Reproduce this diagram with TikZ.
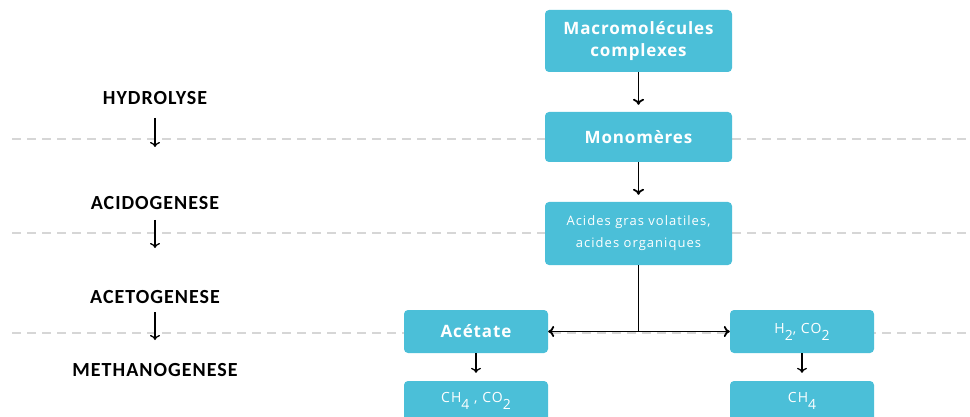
\documentclass[tikz,border=0pt]{standalone}
\usepackage{fontspec}
\setmainfont{Open Sans}
\newfontfamily\boxfont[LetterSpace=5]{Open Sans}
\newfontfamily\smallfont[LetterSpace=8]{Open Sans}
\newfontfamily\labfont[LetterSpace=5]{Carlito}
\usetikzlibrary{arrows.meta}
\definecolor{boxblue}{HTML}{4BBFD8}
\definecolor{dashgrey}{HTML}{D6D6D6}
\newcommand\subs[1]{\raisebox{-7pt}{#1}}
\tikzset{
  box/.style={fill=boxblue, rounded corners=4pt, text=white, align=center, inner sep=0pt},
  bigbox/.style={box, minimum width=187pt, font=\boxfont\fontsize{17}{22}\selectfont\bfseries},
  smallbox/.style={box, minimum width=144pt, minimum height=43pt},
  chem/.style={font=\smallfont\fontsize{14}{14}\selectfont},
  stage/.style={font=\labfont\fontsize{20}{20}\selectfont\bfseries, text=black, inner sep=0pt},
  dashline/.style={draw=dashgrey, line width=2pt, dash pattern=on 9pt off 6pt},
  flow/.style={-{To[length=6pt,width=11pt]}, line width=1.8pt, black},
  sflow/.style={-{To[length=5pt,width=10pt]}, line width=1.3pt, black},
}
\begin{document}
\begin{tikzpicture}[x=1pt,y=-1pt]
\useasboundingbox (0,0) rectangle (970,417);
% dashed separators
\draw[dashline] (12,139) -- (970,139);
\draw[dashline] (12,233) -- (970,233);
\draw[dashline] (12,333) -- (970,333);
% stage labels
\node[stage] (hyd) at (155,98) {HYDROLYSE};
\node[stage] (acid) at (155,203) {ACIDOGENESE};
\node[stage] (acet) at (155,297) {ACETOGENESE};
\node[stage] (meth) at (155,370) {METHANOGENESE};
\coordinate (h1) at (155,118); \coordinate (h2) at (155,147);
\coordinate (a1) at (155,220); \coordinate (a2) at (155,248);
\coordinate (c1) at (155,312); \coordinate (c2) at (155,340);
\draw[sflow] (h1) -- (h2);
\draw[sflow] (a1) -- (a2);
\draw[sflow] (c1) -- (c2);
% main boxes
\node[bigbox, minimum height=62pt] (macro) at (638.5,41) {Macromolécules\\complexes};
\node[bigbox, minimum height=50pt] (mono) at (638.5,137) {Monomères};
\node[bigbox, minimum height=63pt, font=\smallfont\fontsize{13}{22}\selectfont] (agv) at (638.5,233.5) {Acides gras volatiles,\\acides organiques};
\node[smallbox, font=\boxfont\fontsize{17}{17}\selectfont\bfseries] (acetate) at (476,331.5) {Acétate};
\node[smallbox, chem] (hco) at (802,331.5) {H\subs{2}, CO\subs{2}};
\node[smallbox, chem, minimum height=40pt] (cc) at (476,401) {CH\subs{4} , CO\subs{2}};
\node[smallbox, chem, minimum height=40pt] (ch) at (802,401) {CH\subs{4}};
% connectors
\draw[flow, shorten >=7pt] (macro) -- (mono);
\draw[flow, shorten >=7pt] (mono) -- (agv);
\coordinate (split) at (638.5,331.5);
\draw[line width=1.8pt] (agv.south) -- (split);
\draw[{To[length=6pt,width=11pt]}-{To[length=6pt,width=11pt]}, line width=1.8pt] (acetate.east) -- (hco.west);
\draw[sflow, shorten >=8pt] (acetate) -- (cc);
\draw[sflow, shorten >=8pt] (hco) -- (ch);
\end{tikzpicture}
\end{document}
